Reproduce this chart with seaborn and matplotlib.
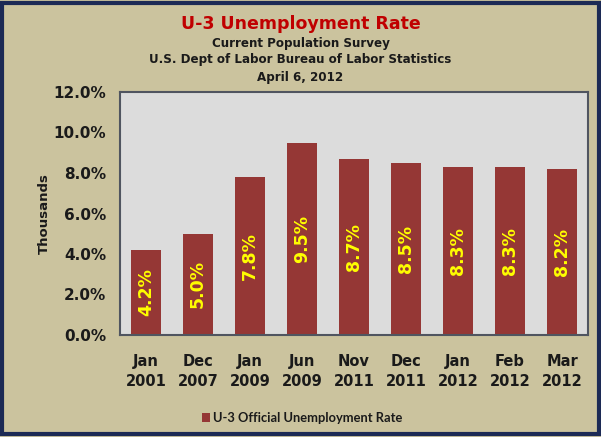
import matplotlib
matplotlib.use("Agg")
import matplotlib.pyplot as plt
import seaborn as sns
import pandas as pd
from matplotlib.patches import Rectangle, Patch
from matplotlib.ticker import FuncFormatter

categories = ["Jan\n2001", "Dec\n2007", "Jan\n2009", "Jun\n2009", "Nov\n2011",
              "Dec\n2011", "Jan\n2012", "Feb\n2012", "Mar\n2012"]
values = [4.2, 5.0, 7.8, 9.5, 8.7, 8.5, 8.3, 8.3, 8.2]
value_labels = ["4.2%", "5.0%", "7.8%", "9.5%", "8.7%", "8.5%", "8.3%", "8.3%", "8.2%"]
y_ticks = [0, 2, 4, 6, 8, 10, 12]
series_name = "U-3 Official Unemployment Rate"

df = pd.DataFrame({"period": categories, "rate": values})

sns.set_theme(style="white")
plt.rcParams["font.family"] = ["DejaVu Sans"]

BG = "#cbc39e"
BAR = "#953735"
fig = plt.figure(figsize=(6.01, 4.37), dpi=100, facecolor=BG)
ax = fig.add_axes([120 / 601, 1 - 335 / 437, (588 - 120) / 601, (335 - 92) / 437])
ax.set_facecolor("#dcdcdc")

sns.barplot(data=df, x="period", y="rate", color=BAR, width=0.575,
            saturation=1, ax=ax, edgecolor="none")

for i, (v, lab) in enumerate(zip(values, value_labels)):
    ax.text(i, v / 2, lab, rotation=90, ha="center", va="center",
            color="#ffff00", fontsize=12.5, fontweight="bold")

ax.set_ylim(0, 12)
ax.set_xlim(-0.5, len(categories) - 0.5)
ax.set_yticks(y_ticks)
ax.yaxis.set_major_formatter(FuncFormatter(lambda v, p: f"{v:.1f}%"))
ax.tick_params(axis="y", labelsize=11, pad=10, length=0)
ax.tick_params(axis="x", labelsize=10.5, pad=14, length=0)
for t in ax.get_yticklabels() + ax.get_xticklabels():
    t.set_fontweight("bold")
    t.set_color("#1a1a1a")
    t.set_linespacing(1.35)
ax.set_xlabel("")
ax.set_ylabel("Thousands", fontsize=9.5, fontweight="bold", color="#1a1a1a")
ax.yaxis.set_label_coords(-0.148, 0.5)
for s in ax.spines.values():
    s.set_visible(True)
    s.set_color("#505560")
    s.set_linewidth(1.5)

fig.text(0.5, 1 - 24 / 437, "U-3 Unemployment Rate", ha="center", va="center",
         fontsize=12.5, fontweight="bold", color="#c00000")
fig.text(0.5, 1 - 43 / 437, "Current Population Survey", ha="center", va="center",
         fontsize=8.6, fontweight="bold", color="#1a1a1a")
fig.text(0.5, 1 - 60 / 437, "U.S. Dept of Labor Bureau of Labor Statistics", ha="center",
         va="center", fontsize=8.6, fontweight="bold", color="#1a1a1a")
fig.text(0.5, 1 - 78 / 437, "April 6, 2012", ha="center", va="center",
         fontsize=8.6, fontweight="bold", color="#1a1a1a")

handle = Patch(facecolor=BAR, edgecolor="none")
leg = fig.legend([handle], [series_name], loc="center", bbox_to_anchor=(0.503, 1 - 418 / 437),
                 frameon=False, handlelength=0.6, handleheight=0.6, handletextpad=0.3,
                 prop={"family": "Lato", "weight": "bold", "size": 9.3})
for t in leg.get_texts():
    t.set_color("#1a1a1a")

fig.patches.append(Rectangle((0.004, 0.006), 0.992, 0.988, transform=fig.transFigure,
                             fill=False, edgecolor="#1c2a55", linewidth=3))

fig.savefig("out.png", dpi=100, facecolor=BG)
